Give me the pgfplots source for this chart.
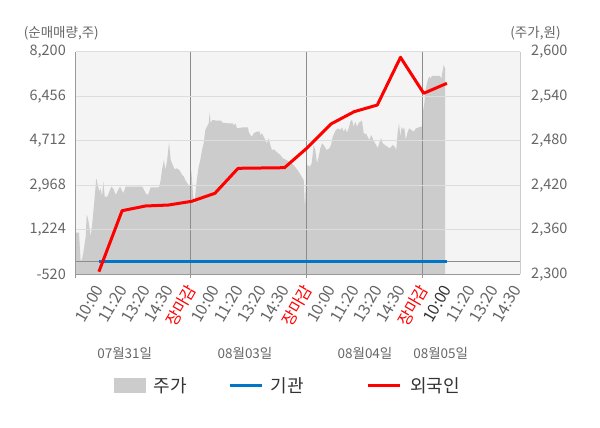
\documentclass[border=0pt]{standalone}
\usepackage{pgfplots}
\pgfplotsset{compat=1.18}
\usepackage{fontspec}
\setmainfont{Noto Sans CJK KR}
\definecolor{bgc}{HTML}{F4F4F4}
\definecolor{areac}{HTML}{CCCCCC}
\definecolor{gridc}{HTML}{DDDDDD}
\definecolor{axc}{HTML}{999999}
\definecolor{sepc}{HTML}{8C8C8C}
\definecolor{lightc}{HTML}{CCCCCC}
\definecolor{labc}{HTML}{666666}
\definecolor{darkc}{HTML}{333333}
\definecolor{bluec}{RGB}{0,118,200}
\definecolor{redc}{RGB}{255,0,0}

\pgfplotstableread{
o p
0 2356
3.3 2356
4 2339.5
5 2317
6.6 2321.5
8.3 2335
10 2351
11 2380
12.3 2375.5
13.6 2364
15 2351
16.6 2369
18.3 2393.4
19.6 2413.6
20.6 2429.4
22 2420.4
23.6 2411.4
25 2415.9
26.3 2404.7
27.6 2424.9
29 2404.7
31.6 2404.7
33.6 2411.4
35.6 2418.1
38 2414.5
40 2406.9
41.6 2411.4
44.3 2418.1
47.6 2409.2
50 2418.1
58.3 2418.1
66.6 2418.1
68 2414.5
70 2409.2
72.3 2406.9
75 2417.2
83.3 2417.2
85 2427.1
86.3 2440.6
88.3 2454.1
89.6 2440.6
91.3 2451.8
93.3 2477.4
95 2454.1
97 2447.3
99 2441.5
101 2442.8
103.6 2440.6
106.5 2433.8
108.3 2431.6
109.5 2427.1
111.6 2422.6
114 2418.1
115.6 2440
117 2413.6
118.6 2391.2
120.3 2418.1
121.6 2431.6
123 2445.1
124.6 2454
126.3 2467.5
128 2476.5
129.6 2494.5
131.3 2499
133 2503.5
134 2517.8
135 2503.5
136.6 2508
141 2507
145.6 2507
146.6 2504.4
152 2503.5
157.3 2503.5
158 2499.9
159.6 2503.5
161.3 2496.7
167 2498
172.3 2498
173 2492.2
174.6 2487.7
176.3 2485.5
178 2490
181 2492.2
184 2492.2
184.6 2487.7
186.3 2490
188 2485.5
189.6 2481
191.3 2476.5
193 2483.2
194.6 2474.3
196.3 2467.5
198.3 2468.4
200.6 2465.3
202.6 2463
204.6 2460.8
207.3 2456.3
210.6 2454
214 2451
217.3 2448
220.6 2442.8
224 2436
226.3 2431
228 2427.1
229.3 2386.6
230 2420
231.6 2447.3
234.3 2445
236 2449.5
238 2474.2
239.6 2467.5
241.3 2449.5
243 2458.5
244.6 2469.7
246.3 2476.5
248 2474.2
251 2467.5
253.6 2469.7
255.3 2474
257 2485
258.6 2490
260.3 2494.5
262.3 2496.7
264.6 2494.5
266.3 2498
268 2492.2
269.6 2496.7
271.3 2490.9
273 2496.7
274.6 2505.7
276.3 2508
278 2499
279.6 2505.7
281.3 2499
283 2503.5
284.6 2505.7
286.3 2507
288 2490
290.6 2489
293.6 2481
295.6 2487.8
297.6 2481
299.3 2476.5
300.6 2474.3
302 2469.8
304 2478.8
305.6 2483.3
307 2476.5
309.3 2474.3
311.6 2472
314.3 2469.8
317 2474.3
319 2472
320.6 2467.5
322 2492.2
323.3 2503.5
324.6 2485.5
326 2499
327.3 2494.5
328.6 2498
330 2481
331.6 2490
333.3 2496.7
335.6 2494.5
338 2492.2
340.3 2496.7
343 2498
345.3 2499
346.5 2499
347.3 2519.2
348.6 2530.4
350.3 2550.6
352 2561.9
353.6 2566.4
355.3 2564.1
356 2567.3
364 2567.3
365.6 2564.1
366.8 2573.1
368 2582.1
369.3 2577.6
}\pricetable

\pgfplotstableread{
o v
23.2 -418
46.4 1971
69.6 2155
92.8 2194
116 2339
139.2 2653
162.4 3632
185.6 3644
208.8 3656
232 4451
255.2 5367
278.4 5849
301.6 6111
324.8 7980
348 6570
371.2 6961
}\foreigntable

\pgfplotstableread{
o v
23.2 0
46.4 0
69.6 0
92.8 0
116 0
139.2 0
162.4 0
185.6 0
208.8 0
232 0
255.2 0
278.4 0
301.6 0
324.8 0
348 0
371.2 0
}\insttable

\begin{document}
\begin{tikzpicture}[x=1pt,y=1pt]
\path[use as bounding box, fill=white] (0,0) rectangle (600,428);

% price axis (right)
\begin{axis}[
  at={(75.7pt,153.7pt)}, anchor=south west,
  scale only axis, width=444.3pt, height=222.6pt,
  xmin=0, xmax=444.3, ymin=2300, ymax=2600,
  axis background/.style={fill=bgc},
  axis on top,
  axis y line*=right, axis x line*=bottom,
  x axis line style={-, draw=axc, line width=0.8pt},
  y axis line style={-, draw=lightc, line width=0.8pt},
  ytick={2300,2360,2420,2480,2540,2600},
  yticklabels={{2,300},{2,360},{2,420},{2,480},{2,540},{2,600}},
  ymajorgrids, grid style={draw=gridc, line width=0.8pt},
  xtick={0,114.6,230.6,346.8}, xticklabels={},
  xtick style={draw=axc, line width=0.8pt},
  ytick style={draw=none},
  tick align=outside, major tick length=4pt,
  y tick label style={font=\fontsize{14.5}{14.5}\selectfont, text=labc, inner sep=0pt, anchor=west, xshift=7pt},
]
\addplot[draw=none, fill=areac] table[x=o, y=p] {\pricetable} \closedcycle;
\draw[sepc, line width=0.8pt] (axis cs:114.6,2300) -- (axis cs:114.6,2600);
\draw[sepc, line width=0.8pt] (axis cs:230.6,2300) -- (axis cs:230.6,2600);
\draw[sepc, line width=0.8pt] (axis cs:346.8,2300) -- (axis cs:346.8,2600);
\end{axis}

% net buying axis (left)
\begin{axis}[
  at={(75.7pt,153.7pt)}, anchor=south west,
  scale only axis, width=444.3pt, height=222.6pt,
  xmin=0, xmax=444.3, ymin=-520, ymax=8200,
  axis y line*=left, axis x line*=bottom,
  x axis line style={-, draw=axc, line width=0.8pt},
  y axis line style={-, draw=axc, line width=0.8pt},
  ytick={-520,1224,2968,4712,6456,8200},
  yticklabels={{-520},{1,224},{2,968},{4,712},{6,456},{8,200}},
  ytick style={draw=none}, xtick style={draw=none},
  xtick={23.2,46.4,69.6,92.8,116,139.2,162.4,185.6,208.8,232,255.2,278.4,301.6,324.8,348,371.2,394.4,417.6,440.8},
  xticklabels={10:00,11:20,13:20,14:30,{\color{redc}장마감},10:00,11:20,13:20,14:30,{\color{redc}장마감},10:00,11:20,13:20,14:30,{\color{redc}장마감},{\color{darkc}10:00},11:20,13:20,14:30},
  x tick label style={font=\fontsize{16}{16}\selectfont, text=labc, inner sep=0pt, xshift=0.5pt, yshift=-12pt, rotate=60, anchor=east},
  y tick label style={font=\fontsize{14.5}{14.5}\selectfont, text=labc, inner sep=0pt, anchor=east, xshift=-9.7pt},
  clip=false,
]
\draw[sepc, line width=0.8pt] (axis cs:0,0) -- (axis cs:444.3,0);
\addplot[bluec, line width=3pt, mark=none] table[x=o, y=v] {\insttable};
\addplot[redc, line width=3pt, mark=none, line join=round] table[x=o, y=v] {\foreigntable};
\end{axis}

% axis titles
\node[text=labc, font=\fontsize{13.5}{13.5}\selectfont] at (61.3,395) {(순매매량,주)};
\node[text=labc, font=\fontsize{13.5}{13.5}\selectfont] at (535.5,395) {(주가,원)};

% date labels
\foreach \dx/\dl in {124.7/07월31일, 245/08월03일, 365/08월04일, 440.7/08월05일}
  \node[text=labc, font=\fontsize{13.5}{13.5}\selectfont] at (\dx,74.3) {\dl};

% legend
\fill[areac] (114.3,35.3) rectangle (145.7,49.7);
\node[anchor=west, inner sep=0pt, text=darkc, font=\fontsize{18}{18}\selectfont] at (153.3,41.8) {주가};
\draw[bluec, line width=3pt] (230,42) -- (261.7,42);
\node[anchor=west, inner sep=0pt, text=darkc, font=\fontsize{18}{18}\selectfont] at (270.7,41.8) {기관};
\draw[redc, line width=3pt] (368.3,42) -- (400,42);
\node[anchor=west, inner sep=0pt, text=darkc, font=\fontsize{18}{18}\selectfont] at (410,41.8) {외국인};
\end{tikzpicture}
\end{document}
